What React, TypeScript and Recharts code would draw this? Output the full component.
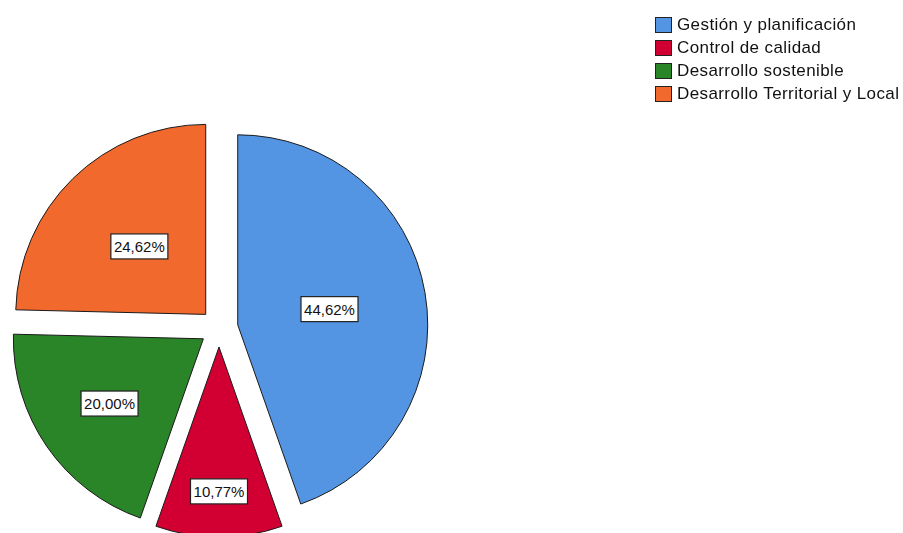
import React from "react";
import { PieChart, Pie, Cell, Legend } from "recharts";

// Responses per area (n = 65)
const categories = [
  "Gestión y planificación",
  "Control de calidad",
  "Desarrollo sostenible",
  "Desarrollo Territorial y Local",
];
const counts = [29, 7, 13, 16];
const colors = ["#5495E3", "#D20032", "#2A8428", "#F2692D"];

// label distance from slice apex, as share of radius
const labelDist = [0.49, 0.76, 0.6, 0.5];

const CX = 219;
const CY = 328;
const R = 190;
const EXPLODE = 19;
const FONT = "'Liberation Sans', Arial, sans-serif";
const RAD = Math.PI / 180;

const data = categories.map((name, i) => ({ name, value: counts[i] }));
const total = counts.reduce((a, b) => a + b, 0);

const fmt = (v: number) => ((v / total) * 100).toFixed(2).replace(".", ",") + "%";

// offset each slice outward along its mid angle (clockwise from 12 o'clock)
const offsets = counts.map((v, i) => {
  const before = counts.slice(0, i).reduce((a, b) => a + b, 0);
  const theta = ((before + v / 2) / total) * 360 * RAD;
  return { dx: EXPLODE * Math.sin(theta), dy: -EXPLODE * Math.cos(theta) };
});

const makeLabel = (show: number) => (props: any) => {
  const { cx, cy, midAngle, outerRadius, index, value } = props;
  if (index !== show) return null;
  const rr = outerRadius * labelDist[index];
  const x = cx + rr * Math.cos(-midAngle * RAD);
  const y = cy + rr * Math.sin(-midAngle * RAD);
  const text = fmt(value);
  const w = 57;
  const h = 25;
  return (
    <g>
      <rect x={x - w / 2} y={y - h / 2} width={w} height={h} fill="#fff" stroke="#222" strokeWidth={1.2} />
      <text x={x} y={y + 5.5} textAnchor="middle" fontSize={15} fontFamily={FONT} fill="#111">
        {text}
      </text>
    </g>
  );
};

const LegendBox = () => (
  <div style={{ fontFamily: FONT, fontSize: 17, letterSpacing: 0.4, color: "#111" }}>
    {categories.map((c, i) => (
      <div key={c} style={{ display: "flex", alignItems: "center", height: 23 }}>
        <span
          style={{
            width: 17,
            height: 16,
            background: colors[i],
            border: "1px solid #222",
            marginRight: 5,
            boxSizing: "border-box",
            flexShrink: 0,
          }}
        />
        <span style={{ whiteSpace: "nowrap" }}>{c}</span>
      </div>
    ))}
  </div>
);

export default function App() {
  return (
    <div style={{ position: "fixed", left: 0, top: 0, width: 903, height: 533, background: "#fff" }}>
      <PieChart width={903} height={533} margin={{ top: 0, right: 0, bottom: 0, left: 0 }}>
        {counts.map((_, s) => (
          <Pie
            key={s}
            data={data}
            dataKey="value"
            nameKey="name"
            cx={CX + offsets[s].dx}
            cy={CY + offsets[s].dy}
            outerRadius={R}
            startAngle={90}
            endAngle={-270}
            isAnimationActive={false}
            labelLine={false}
            label={makeLabel(s)}
          >
            {data.map((d, i) => (
              <Cell
                key={d.name}
                fill={i === s ? colors[i] : "none"}
                stroke={i === s ? "#1a1a1a" : "none"}
                strokeWidth={1}
              />
            ))}
          </Pie>
        ))}
        <Legend
          content={<LegendBox />}
          wrapperStyle={{ position: "absolute", left: 655, top: 13, width: 250 }}
        />
      </PieChart>
    </div>
  );
}
